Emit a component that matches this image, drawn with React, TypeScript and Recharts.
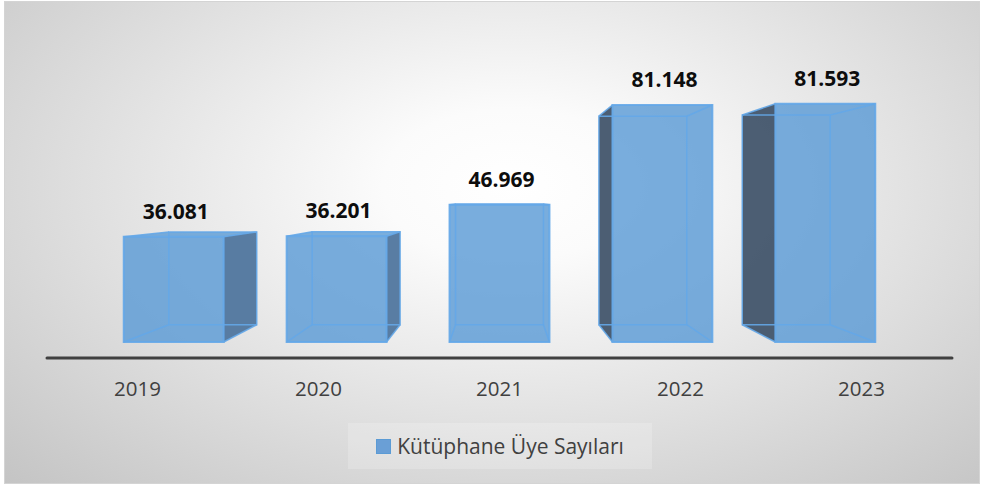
import React from 'react';
import { BarChart, Bar, XAxis, YAxis, Legend, LabelList } from 'recharts';

// chart data
const years = ['2019', '2020', '2021', '2022', '2023'];
const memberCounts = [36081, 36201, 46969, 81148, 81593];
const seriesName = 'Kütüphane Üye Sayıları';

const data = years.map((year, i) => ({ year, members: memberCounts[i] }));

const CHART_W = 974;
const CHART_H = 481;
const MARGIN = { top: 64, right: 27, bottom: 95, left: 42 };
const FONT = '"Open Sans", "DejaVu Sans", sans-serif';

// simple perspective: everything is pulled towards a vanishing point
const VP_X = MARGIN.left + (CHART_W - MARGIN.left - MARGIN.right) / 2;
const VP_Y = 196;
const FRONT = 0.9;
const BACK = 0.792;

const BLUE = '#5b9bd5';
const EDGE = '#64a7e8';
const DARK_RIGHT = '#50769e';
const DARK_LEFT = '#42556b';

type Pt = [number, number];
const proj = (px: number, py: number, s: number): Pt => [VP_X + (px - VP_X) * s, VP_Y + (py - VP_Y) * s];
const pts = (arr: Pt[]) => arr.map((p) => p.join(',')).join(' ');

const fmt = (v: number) => String(v).replace(/\B(?=(\d{3})+(?!\d))/g, '.');

const corners = (x: number, y: number, w: number, h: number, s: number) => ({
  tl: proj(x, y, s),
  tr: proj(x + w, y, s),
  br: proj(x + w, y + h, s),
  bl: proj(x, y + h, s),
});

const Box3D = (props: any) => {
  const { x, y, width, height } = props;
  if (width == null || height == null) return null;
  const f = corners(x, y, width, height, FRONT);
  const b = corners(x, y, width, height, BACK);
  const rightVisible = f.tr[0] < VP_X - 5;
  const leftVisible = f.tl[0] > VP_X + 5;
  const topVisible = f.tl[1] > VP_Y;
  return (
    <g>
      {rightVisible && <polygon points={pts([f.tr, b.tr, b.br, f.br])} fill={DARK_RIGHT} fillOpacity={0.95} />}
      {leftVisible && <polygon points={pts([f.tl, b.tl, b.bl, f.bl])} fill={DARK_LEFT} fillOpacity={0.95} />}
      {topVisible && <polygon points={pts([f.tl, f.tr, b.tr, b.tl])} fill={BLUE} fillOpacity={0.8} />}
      <polygon points={pts([f.tl, f.tr, f.br, f.bl])} fill={BLUE} fillOpacity={0.82} />
      <g stroke={EDGE} strokeWidth={1.5} fill="none" strokeOpacity={0.9}>
        <polygon points={pts([b.tl, b.tr, b.br, b.bl])} />
        <line x1={f.tl[0]} y1={f.tl[1]} x2={b.tl[0]} y2={b.tl[1]} />
        <line x1={f.tr[0]} y1={f.tr[1]} x2={b.tr[0]} y2={b.tr[1]} />
        <line x1={f.br[0]} y1={f.br[1]} x2={b.br[0]} y2={b.br[1]} />
        <line x1={f.bl[0]} y1={f.bl[1]} x2={b.bl[0]} y2={b.bl[1]} />
        <polygon points={pts([f.tl, f.tr, f.br, f.bl])} strokeWidth={2} />
      </g>
    </g>
  );
};

const ValueLabel = (props: any) => {
  const { x, y, width, value } = props;
  const [lx, ly] = proj(x + width / 2, y, FRONT);
  return (
    <text x={lx + 2} y={ly - 18} textAnchor="middle" fontFamily={FONT} fontWeight={700} fontSize={21} fill="#0d0d0d">
      {fmt(value)}
    </text>
  );
};

const YearTick = ({ x, y, payload }: any) => (
  <text x={x} y={y + 38} textAnchor="middle" fontFamily={FONT} fontSize={20.5} fill="#404040">
    {payload.value}
  </text>
);

const LegendBox = () => (
  <div
    style={{
      width: 304,
      height: 46,
      display: 'flex',
      alignItems: 'center',
      justifyContent: 'center',
      background: 'rgba(255,255,255,0.2)',
      fontFamily: FONT,
      fontSize: 21,
      color: '#404040',
    }}
  >
    <span style={{ width: 13, height: 13, background: '#6a9fd6', border: '1px solid #5b9bd5', marginRight: 6 }} />
    <span>{seriesName}</span>
  </div>
);

export default function App() {
  return (
    <div
      style={{
        position: 'absolute',
        left: 4,
        top: 1,
        width: CHART_W + 2,
        height: CHART_H + 2,
        boxSizing: 'border-box',
        border: '1px solid #d4d4d4',
        background: 'radial-gradient(ellipse farthest-corner at 52% 38%, #ffffff 0%, #fbfbfb 18%, #c4c4c4 100%)',
      }}
    >
      <BarChart width={CHART_W} height={CHART_H} data={data} margin={MARGIN}>
        <XAxis
          dataKey="year"
          height={30}
          tickLine={false}
          tickSize={0}
          tickMargin={0}
          tick={<YearTick />}
          axisLine={{ stroke: '#404040', strokeWidth: 3, strokeLinecap: 'round' }}
        />
        <YAxis hide domain={[0, 90000]} />
        <Legend
          layout="horizontal"
          verticalAlign="middle"
          align="center"
          content={<LegendBox />}
          wrapperStyle={{ left: 343, top: 421, width: 304, height: 46 }}
        />
        <Bar dataKey="members" name={seriesName} barSize={111} shape={<Box3D />} isAnimationActive={false}>
          <LabelList dataKey="members" content={<ValueLabel />} />
        </Bar>
      </BarChart>
    </div>
  );
}
